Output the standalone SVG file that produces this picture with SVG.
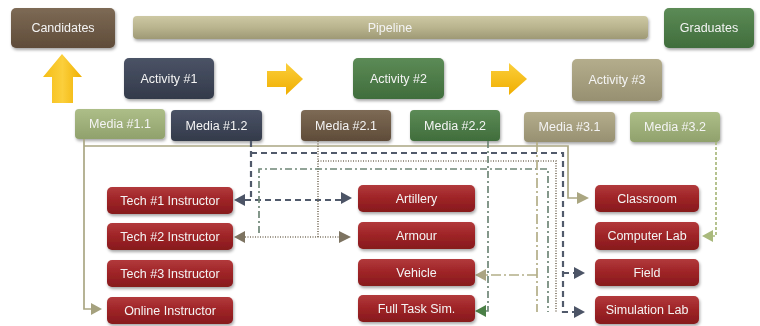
<svg xmlns="http://www.w3.org/2000/svg" width="760" height="326" viewBox="0 0 760 326">
<defs>
  <linearGradient id="gBrown" x1="0" y1="0" x2="0" y2="1"><stop offset="0" stop-color="#7d6a55"/><stop offset="1" stop-color="#5f4c39"/></linearGradient>
  <linearGradient id="gSlate" x1="0" y1="0" x2="0" y2="1"><stop offset="0" stop-color="#4b5366"/><stop offset="1" stop-color="#333a4a"/></linearGradient>
  <linearGradient id="gGreen" x1="0" y1="0" x2="0" y2="1"><stop offset="0" stop-color="#5c8b56"/><stop offset="1" stop-color="#406d3c"/></linearGradient>
  <linearGradient id="gKhaki" x1="0" y1="0" x2="0" y2="1"><stop offset="0" stop-color="#b4ad8c"/><stop offset="1" stop-color="#979071"/></linearGradient>
  <linearGradient id="gLight" x1="0" y1="0" x2="0" y2="1"><stop offset="0" stop-color="#adbe88"/><stop offset="1" stop-color="#90a16c"/></linearGradient>
  <linearGradient id="gRed" x1="0" y1="0" x2="0" y2="1"><stop offset="0" stop-color="#b23a3c"/><stop offset="0.5" stop-color="#9e2326"/><stop offset="1" stop-color="#861a1d"/></linearGradient>
  <linearGradient id="gPipe" x1="0" y1="0" x2="0" y2="1"><stop offset="0" stop-color="#cdc8a3"/><stop offset="0.5" stop-color="#b9b48e"/><stop offset="1" stop-color="#9e9975"/></linearGradient>
  <linearGradient id="gYelV" x1="0" y1="0" x2="1" y2="0"><stop offset="0" stop-color="#f5bd14"/><stop offset="0.5" stop-color="#fbcf3c"/><stop offset="1" stop-color="#f0b000"/></linearGradient>
  <linearGradient id="gYelH" x1="0" y1="0" x2="0" y2="1"><stop offset="0" stop-color="#fbcf3c"/><stop offset="1" stop-color="#f0ae00"/></linearGradient>
  <filter id="sh" x="-10%" y="-20%" width="125%" height="160%">
    <feDropShadow dx="1" dy="2" stdDeviation="1.8" flood-color="#000" flood-opacity="0.35"/>
  </filter>
</defs>
<style>
  text { font-family: "Liberation Sans", Arial, sans-serif; font-size: 12.5px; fill: #f4f4f4; text-anchor: middle; dominant-baseline: central; }
  .box { filter: url(#sh); }
  .brown { fill: url(#gBrown); }
  .slate { fill: url(#gSlate); }
  .green { fill: url(#gGreen); }
  .khaki { fill: url(#gKhaki); }
  .light { fill: url(#gLight); }
  .red { fill: url(#gRed); }
  .pipe { fill: url(#gPipe); }
  .c { fill: none; }
  .dash { stroke: #515a6b; stroke-width: 2.2; stroke-dasharray: 6 4; }
  .dot { stroke: #7f7564; stroke-width: 1.7; stroke-dasharray: 1 1.5; }
  .dashdot { stroke: #6f8677; stroke-width: 1.7; stroke-dasharray: 7 3 2 3; }
  .olivedd { stroke: #b3ae88; stroke-width: 1.7; stroke-dasharray: 10 3 2 3; }
  .solid { stroke: #aaa683; stroke-width: 1.7; }
  .lgdash { stroke: #a9b97c; stroke-width: 1.7; stroke-dasharray: 3 2; }
</style>

<!-- top row -->
<g id="candidates" class="box"><rect class="brown" x="11" y="8" width="104" height="40" rx="5"/><text x="63" y="28">Candidates</text></g>
<g id="pipeline" class="box"><rect class="pipe" x="133" y="16" width="515" height="23" rx="4"/><text x="390" y="27.5">Pipeline</text></g>
<g id="graduates" class="box"><rect class="green" x="664" y="8" width="90" height="40" rx="5"/><text x="709" y="28">Graduates</text></g>

<!-- yellow arrows -->
<g id="arrow-up"><polygon fill="url(#gYelV)" points="62,54 82,77 73,77 73,103 52,103 52,77 43,77"/></g>
<g id="arrow-right-1"><polygon fill="url(#gYelH)" points="267,71 286,71 286,63 303,79 286,95 286,87 267,87"/></g>
<g id="arrow-right-2"><polygon fill="url(#gYelH)" points="491,71 509,71 509,63 527,79 509,95 509,87 491,87"/></g>

<!-- activities -->
<g id="activity1" class="box"><rect class="slate" x="124" y="58" width="90" height="41" rx="5"/><text x="169" y="78.5">Activity #1</text></g>
<g id="activity2" class="box"><rect class="green" x="353" y="58" width="91" height="41" rx="5"/><text x="398.5" y="78.5">Activity #2</text></g>
<g id="activity3" class="box"><rect class="khaki" x="572" y="59" width="90" height="42" rx="5"/><text x="617" y="80">Activity #3</text></g>

<!-- media -->
<g id="media11" class="box"><rect class="light" x="75" y="109" width="90" height="30" rx="4"/><text x="120" y="124">Media #1.1</text></g>
<g id="media12" class="box"><rect class="slate" x="171" y="110" width="91" height="31" rx="4"/><text x="216.5" y="125.5">Media #1.2</text></g>
<g id="media21" class="box"><rect class="brown" x="301" y="110" width="90" height="31" rx="4"/><text x="346" y="125.5">Media #2.1</text></g>
<g id="media22" class="box"><rect class="green" x="410" y="110" width="90" height="31" rx="4"/><text x="455" y="125.5">Media #2.2</text></g>
<g id="media31" class="box"><rect class="khaki" x="524" y="112" width="91" height="30" rx="4"/><text x="569.5" y="127">Media #3.1</text></g>
<g id="media32" class="box"><rect class="light" x="630" y="112" width="90" height="30" rx="4"/><text x="675" y="127">Media #3.2</text></g>

<!-- connectors -->
<g id="connectors">
  <path class="c solid" d="M84,139 V309 H92"/>
  <path class="c solid" d="M84,146 H568 V198 H578"/>
  <path class="c dash" d="M251,141 V200"/>
  <path class="c dash" d="M245,200 H341"/>
  <path class="c dash" d="M251,153 H563 V312 H575"/>
  <path class="c dash" d="M563,273 H575"/>
  <path class="c dot" d="M318,141 V237"/>
  <path class="c dot" d="M245,237 H339"/>
  <path class="c dot" d="M318,161 H556 V312"/>
  <path class="c dashdot" d="M488,141 V311 H486"/>
  <path class="c dashdot" d="M259,233 V169 H548 V312"/>
  <path class="c olivedd" d="M537,142 V312"/>
  <path class="c olivedd" d="M537,275 H486"/>
  <path class="c lgdash" d="M716,142 V236 H712"/>
  <!-- arrowheads -->
  <polygon fill="#4c5466" points="234,200 245,194 245,206"/>
  <polygon fill="#4c5466" points="352,198 341,192 341,204"/>
  <polygon fill="#7d7361" points="234,237 245,231 245,243"/>
  <polygon fill="#7d7361" points="351,237 339,231 339,243"/>
  <polygon fill="#a5a17e" points="102,309 91,303 91,315"/>
  <polygon fill="#aaa681" points="589,198 577,192 577,204"/>
  <polygon fill="#a9b97c" points="702,236 713,230 713,242"/>
  <polygon fill="#aba482" points="475,275 486,269 486,281"/>
  <polygon fill="#4a7f46" points="475,311 486,305 486,317"/>
  <polygon fill="#4c5466" points="585,273 574,267 574,279"/>
  <polygon fill="#4c5466" points="585,312 574,306 574,318"/>
</g>

<!-- instructors -->
<g id="tech1" class="box"><rect class="red" x="107" y="187" width="126" height="27" rx="5"/><text x="170" y="200.5">Tech #1 Instructor</text></g>
<g id="tech2" class="box"><rect class="red" x="107" y="223" width="126" height="27" rx="5"/><text x="170" y="236.5">Tech #2 Instructor</text></g>
<g id="tech3" class="box"><rect class="red" x="107" y="260" width="126" height="27" rx="5"/><text x="170" y="273.5">Tech #3 Instructor</text></g>
<g id="online" class="box"><rect class="red" x="107" y="297" width="126" height="27" rx="5"/><text x="170" y="310.5">Online Instructor</text></g>

<!-- equipment -->
<g id="artillery" class="box"><rect class="red" x="358" y="185" width="117" height="27" rx="5"/><text x="416.5" y="198.5">Artillery</text></g>
<g id="armour" class="box"><rect class="red" x="358" y="222" width="117" height="27" rx="5"/><text x="416.5" y="235.5">Armour</text></g>
<g id="vehicle" class="box"><rect class="red" x="358" y="259" width="117" height="27" rx="5"/><text x="416.5" y="272.5">Vehicle</text></g>
<g id="fulltask" class="box"><rect class="red" x="358" y="295" width="117" height="27" rx="5"/><text x="416.5" y="308.5">Full Task Sim.</text></g>

<!-- facilities -->
<g id="classroom" class="box"><rect class="red" x="595" y="185" width="104" height="27" rx="5"/><text x="647" y="198.5">Classroom</text></g>
<g id="computerlab" class="box"><rect class="red" x="595" y="222" width="104" height="28" rx="5"/><text x="647" y="236">Computer Lab</text></g>
<g id="field" class="box"><rect class="red" x="595" y="259" width="104" height="27" rx="5"/><text x="647" y="272.5">Field</text></g>
<g id="simlab" class="box"><rect class="red" x="595" y="296" width="104" height="28" rx="5"/><text x="647" y="310">Simulation Lab</text></g>
</svg>
